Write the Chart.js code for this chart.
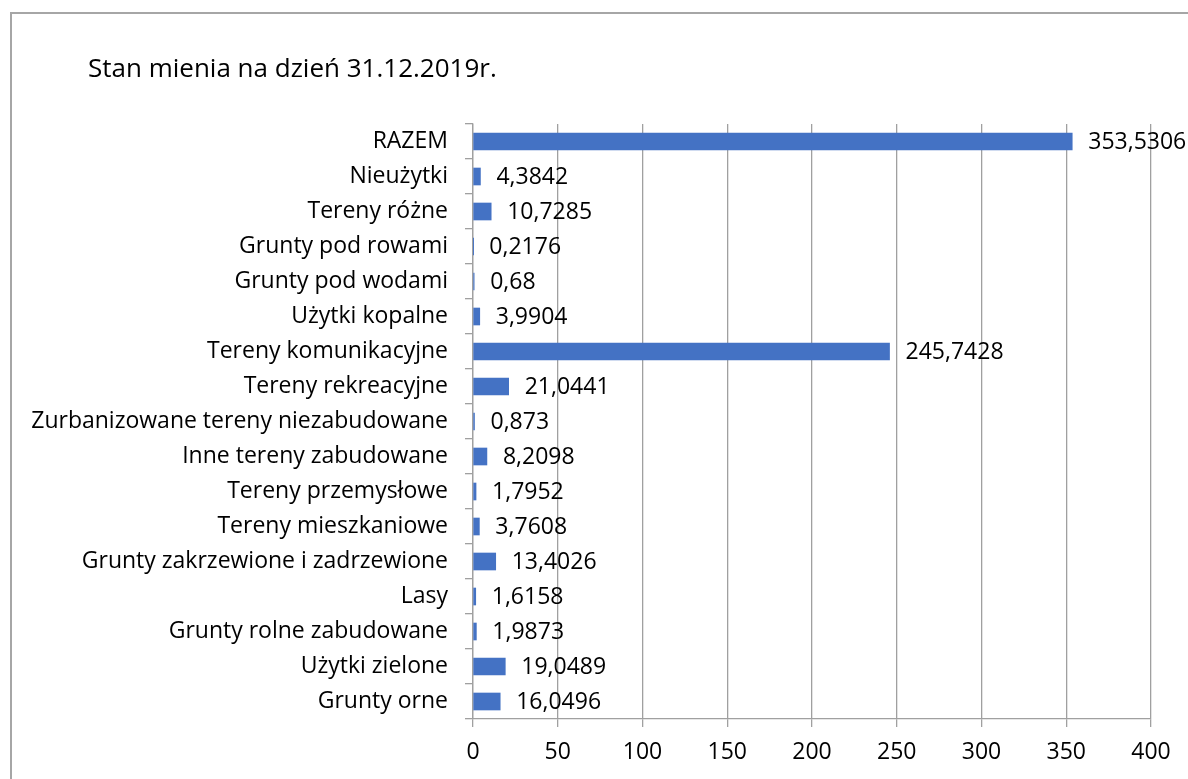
<!DOCTYPE html>
<html>
<head>
<meta charset="utf-8">
<script src="https://cdn.jsdelivr.net/npm/chart.js@4.4.1/dist/chart.umd.min.js"></script>
<style>
  html, body { margin: 0; padding: 0; background: #fff; }
  #wrap { position: relative; width: 1188px; height: 779px; overflow: hidden; }
  #frame { position: absolute; left: 10px; top: 12px; width: 1300px; height: 900px; border: 2px solid #a6a6a6; box-sizing: border-box; }
  #chart-js { position: absolute; left: 0; top: 0; }
</style>
</head>
<body>
<div id="wrap">
  <div id="frame"></div>
  <canvas id="chart-js" width="1188" height="779"></canvas>
</div>
<script>
var title = 'Stan mienia na dzień 31.12.2019r.';

// kategorie od góry do dołu
var categories = [
    'RAZEM',
    'Nieużytki',
    'Tereny różne',
    'Grunty pod rowami',
    'Grunty pod wodami',
    'Użytki kopalne',
    'Tereny komunikacyjne',
    'Tereny rekreacyjne',
    'Zurbanizowane tereny niezabudowane',
    'Inne tereny zabudowane',
    'Tereny przemysłowe',
    'Tereny mieszkaniowe',
    'Grunty zakrzewione i zadrzewione',
    'Lasy',
    'Grunty rolne zabudowane',
    'Użytki zielone',
    'Grunty orne'
];

var values = [
    353.5306, 4.3842, 10.7285, 0.2176, 0.68, 3.9904, 245.7428, 21.0441,
    0.873, 8.2098, 1.7952, 3.7608, 13.4026, 1.6158, 1.9873, 19.0489, 16.0496
];

var xTicks = [0, 50, 100, 150, 200, 250, 300, 350, 400];

var fontFamily = '"Open Sans", sans-serif';
var gridColor = '#a0a0a0';

function fmt(v) {
    return String(v).replace('.', ',');
}

// etykiety wartości za słupkami + tytuł
var labelsPlugin = {
    id: 'valueLabels',
    afterDatasetsDraw: function (chart) {
        var ctx = chart.ctx;
        var meta = chart.getDatasetMeta(0);
        ctx.save();
        ctx.font = '23px ' + fontFamily;
        ctx.fillStyle = '#000';
        ctx.textAlign = 'left';
        ctx.textBaseline = 'middle';
        meta.data.forEach(function (bar, i) {
            ctx.fillText(fmt(values[i]), bar.x + 16, bar.y + 1);
        });
        ctx.font = '26px ' + fontFamily;
        ctx.fillText(title, 88, 70);
        ctx.restore();
    }
};

var ctx = document.getElementById('chart-js').getContext('2d');
var myBarChart = new Chart(ctx, {
    type: 'bar',
    data: {
        labels: categories,
        datasets: [{
            data: values,
            backgroundColor: '#4472c4',
            borderWidth: 0,
            barThickness: 17
        }]
    },
    options: {
        indexAxis: 'y',
        responsive: false,
        animation: false,
        layout: {
            padding: { top: 124, right: 37, left: 0, bottom: 0 }
        },
        plugins: {
            legend: { display: false },
            tooltip: { enabled: false }
        },
        scales: {
            x: {
                min: 0,
                max: 400,
                afterBuildTicks: function (scale) {
                    scale.ticks = xTicks.map(function (v) { return { value: v }; });
                },
                afterFit: function (scale) { scale.height = 60; },
                grid: {
                    color: gridColor,
                    lineWidth: 1.3,
                    tickLength: 8,
                    drawTicks: true
                },
                border: { display: true, color: gridColor, width: 1.3 },
                ticks: {
                    color: '#000',
                    padding: 12,
                    font: { family: fontFamily, size: 23 }
                }
            },
            y: {
                afterFit: function (scale) { scale.width = 473; },
                grid: {
                    offset: true,
                    drawOnChartArea: false,
                    color: gridColor,
                    lineWidth: 1.3,
                    tickLength: 8
                },
                border: { display: true, color: gridColor, width: 1.3 },
                ticks: {
                    color: '#000',
                    padding: 17,
                    autoSkip: false,
                    font: { family: fontFamily, size: 23 }
                }
            }
        }
    },
    plugins: [labelsPlugin]
});
</script>
</body>
</html>
